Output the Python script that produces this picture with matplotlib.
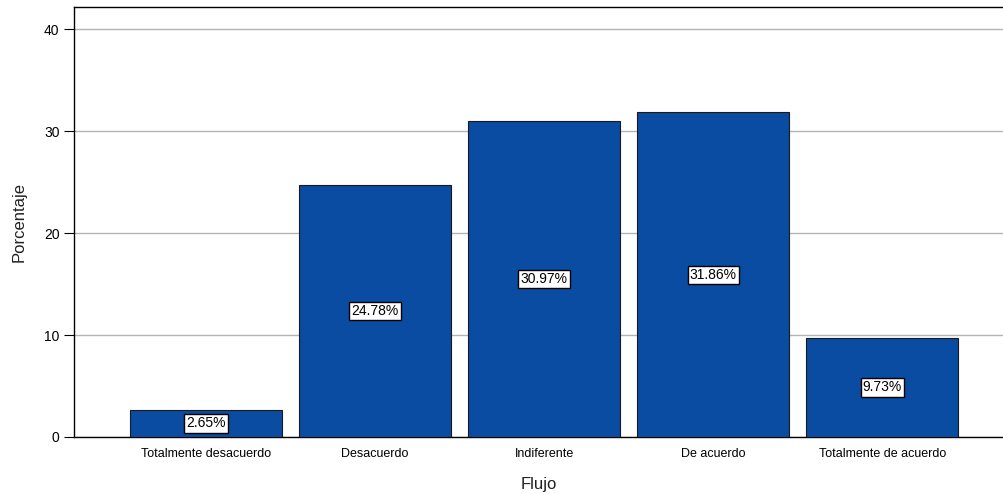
import numpy as np
from matplotlib import pyplot as plt

categorias = ['Totalmente desacuerdo', 'Desacuerdo', 'Indiferente', 'De acuerdo', 'Totalmente de acuerdo']
porcentajes = [2.65, 24.78, 30.97, 31.86, 9.73]
etiquetas = ['2.65%', '24.78%', '30.97%', '31.86%', '9.73%']

plt.rcParams['font.family'] = ['Liberation Sans', 'DejaVu Sans']

fig = plt.figure(figsize=(10.04, 4.94), dpi=100)
ax = fig.add_axes([0.0737, 0.1154, 0.9263, 0.8704])

x = np.arange(len(categorias))
ax.bar(x, porcentajes, width=0.9, color='#0a4ca2', edgecolor='#1a1a1a', linewidth=0.8, zorder=3)

for xi, v, t in zip(x, porcentajes, etiquetas):
    ax.text(xi, v / 2, t, ha='center', va='center', fontsize=10, zorder=4,
            bbox=dict(boxstyle='square,pad=0.15', facecolor='white', edgecolor='black', linewidth=1))

ax.set_xlim(-0.78, 4.72)
ax.set_ylim(0, 42.2)
ax.set_yticks([0, 10, 20, 30, 40])
ax.set_xticks(x)
ax.set_xticklabels(categorias, fontsize=9)
ax.tick_params(axis='y', labelsize=10, length=7, width=0.8)
ax.tick_params(axis='x', length=0, pad=8)
ax.yaxis.grid(True, color='#b4b4b4', linewidth=1, zorder=0)
ax.spines['right'].set_visible(False)
for s in ['left', 'top', 'bottom']:
    ax.spines[s].set_linewidth(1)
    ax.spines[s].set_color('black')

ax.set_ylabel('Porcentaje', fontsize=12, color='#222222', labelpad=12)
ax.set_xlabel('Flujo', fontsize=12, color='#222222', labelpad=12)

plt.savefig('out.png', dpi=100)
plt.close(fig)
